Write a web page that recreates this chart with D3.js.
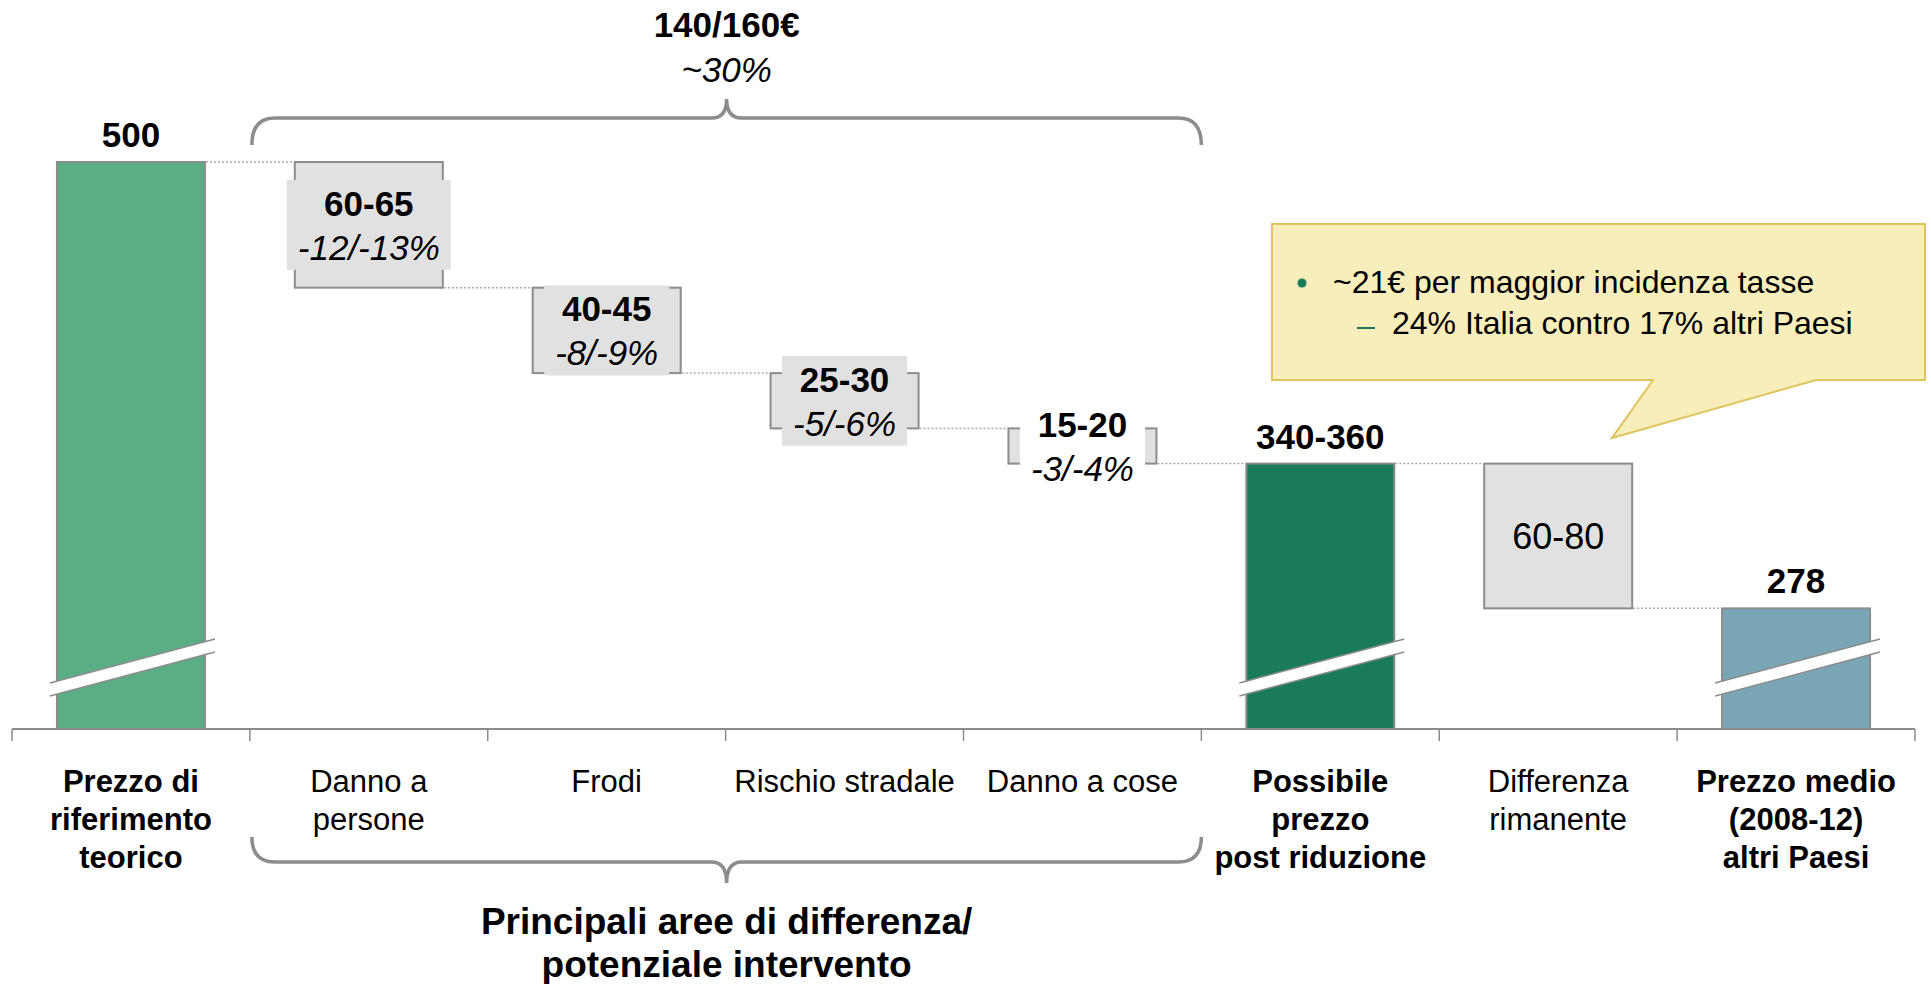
<!DOCTYPE html>
<html>
<head>
<meta charset="utf-8">
<script src="https://cdn.jsdelivr.net/npm/d3@7"></script>
<style>
  body { margin: 0; background: #fff; }
  text { font-family: "Liberation Sans", Arial, sans-serif; }
</style>
</head>
<body>
<svg id="chart" width="1931" height="984"></svg>
<script>
// chart data
const categories = ["Prezzo di riferimento teorico", "Danno a persone", "Frodi", "Rischio stradale",
  "Danno a cose", "Possibile prezzo post riduzione", "Differenza rimanente", "Prezzo medio (2008-12) altri Paesi"];
const kinds = ["total", "step", "step", "step", "step", "total", "step", "total"];
const lowValues = [500, 60, 40, 25, 15, 340, 60, 278];
const highValues = [500, 65, 45, 30, 20, 360, 80, 278];
const valueLabels = ["500", "60-65", "40-45", "25-30", "15-20", "340-360", "60-80", "278"];
const shareLabels = [null, "-12/-13%", "-8/-9%", "-5/-6%", "-3/-4%", null, null, null];
const tickLines = [["Prezzo di", "riferimento", "teorico"], ["Danno a", "persone"], ["Frodi"], ["Rischio stradale"],
  ["Danno a cose"], ["Possibile", "prezzo", "post riduzione"], ["Differenza", "rimanente"], ["Prezzo medio", "(2008-12)", "altri Paesi"]];
const boldTicks = [true, false, false, false, false, true, false, true];
const braceTop = ["140/160€", "~30%"];
const braceBottom = ["Principali aree di differenza/", "potenziale intervento"];
const noteLines = ["~21€ per maggior incidenza tasse", "24% Italia contro 17% altri Paesi"];

const totalFill = { 0: "#5bae84", 5: "#1a7b5a", 7: "#7aa5b5" };
const stepFill = "#e1e1e1";
const edge = "#8c8c8c";
const labelBg = { 1: stepFill, 2: stepFill, 3: stepFill, 4: "#fff" };

const svg = d3.select("#chart");
const x = d3.scaleBand().domain(categories).range([12, 1915]).padding(0);
const y = d3.scaleLinear().domain([218, 500]).range([729, 162]);
const barW = 148;
const axisY = y(218);

// waterfall levels
let level = 0;
const rows = categories.map((c, i) => {
  const mid = (lowValues[i] + highValues[i]) / 2;
  let top, bottom;
  if (kinds[i] === "total") {
    top = mid; bottom = 218; level = mid;
  } else {
    top = level;
    bottom = kinds[i + 1] === "total" ? (lowValues[i + 1] + highValues[i + 1]) / 2 : level - mid;
    level = bottom;
  }
  const x0 = x(c) + (x.bandwidth() - barW) / 2;
  return { c, i, kind: kinds[i], top, bottom, end: level, x0, x1: x0 + barW };
});

// bars
svg.append("g").selectAll("rect").data(rows).join("rect")
  .attr("x", d => d.x0)
  .attr("y", d => y(d.top))
  .attr("width", barW)
  .attr("height", d => y(d.bottom) - y(d.top))
  .attr("fill", d => d.kind === "total" ? totalFill[d.i] : stepFill)
  .attr("stroke", edge)
  .attr("stroke-width", 2);

// axis breaks on total bars
const breaks = svg.append("g");
rows.filter(d => d.kind === "total").forEach(d => {
  const a = d.x0 - 7, b = d.x1 + 10;
  breaks.append("path")
    .attr("d", `M${a},683 L${b},639 L${b},652 L${a},696 Z`)
    .attr("fill", "#fff");
  [[683, 639], [696, 652]].forEach(([ya, yb]) => {
    breaks.append("line")
      .attr("x1", a).attr("y1", ya).attr("x2", b).attr("y2", yb)
      .attr("stroke", edge).attr("stroke-width", 1.5);
  });
});

// dotted connectors
svg.append("g").selectAll("line").data(rows.slice(0, -1)).join("line")
  .attr("x1", d => d.x1 + 1)
  .attr("x2", d => rows[d.i + 1].x0 - 1)
  .attr("y1", d => y(d.end))
  .attr("y2", d => y(d.end))
  .attr("stroke", "#aaa")
  .attr("stroke-width", 1.5)
  .attr("stroke-dasharray", "2,2");

// axis
const axis = svg.append("g");
axis.append("line")
  .attr("x1", x.range()[0]).attr("x2", x.range()[1])
  .attr("y1", axisY).attr("y2", axisY)
  .attr("stroke", edge).attr("stroke-width", 2);
axis.selectAll("line.tick").data(categories.map(c => x(c)).concat([x.range()[1]])).join("line")
  .attr("class", "tick")
  .attr("x1", d => d).attr("x2", d => d)
  .attr("y1", axisY).attr("y2", axisY + 12)
  .attr("stroke", edge).attr("stroke-width", 1.5);

const tickText = axis.selectAll("text").data(categories).join("text")
  .attr("text-anchor", "middle")
  .attr("font-size", 31)
  .attr("font-weight", (d, i) => boldTicks[i] ? "bold" : "normal")
  .attr("fill", "#000");
tickText.each(function (c, i) {
  tickLines[i].forEach((t, k) => {
    d3.select(this).append("tspan")
      .attr("x", x(c) + x.bandwidth() / 2)
      .attr("y", 792 + k * 38)
      .text(t);
  });
});

// value labels
const labels = svg.append("g");
rows.forEach(d => {
  const cx = d.x0 + barW / 2;
  if (d.kind === "total") {
    labels.append("text")
      .attr("x", cx).attr("y", y(d.top) - 15)
      .attr("text-anchor", "middle")
      .attr("font-size", 35).attr("font-weight", "bold")
      .text(valueLabels[d.i]);
  } else if (shareLabels[d.i]) {
    const mid = (y(d.top) + y(d.bottom)) / 2;
    const g = labels.append("g");
    const bg = g.append("rect");
    const t1 = g.append("text")
      .attr("x", cx).attr("y", mid - 9)
      .attr("text-anchor", "middle")
      .attr("font-size", 35).attr("font-weight", "bold")
      .text(valueLabels[d.i]);
    const t2 = g.append("text")
      .attr("x", cx).attr("y", mid + 35)
      .attr("text-anchor", "middle")
      .attr("font-size", 35).attr("font-style", "italic")
      .text(shareLabels[d.i]);
    const w = Math.max(t1.node().getComputedTextLength(), t2.node().getComputedTextLength()) + 22;
    bg.attr("x", cx - w / 2).attr("width", w)
      .attr("y", mid - 45).attr("height", 90)
      .attr("fill", labelBg[d.i]);
  } else {
    labels.append("text")
      .attr("x", cx).attr("y", (y(d.top) + y(d.bottom)) / 2 + 13)
      .attr("text-anchor", "middle")
      .attr("font-size", 36)
      .text(valueLabels[d.i]);
  }
});

// braces
const bx0 = x(categories[1]) + 2, bx1 = x(categories[5]);
const bmid = (bx0 + bx1) / 2;
const brace = (yEnd, yLine, yTip) =>
  `M${bx0},${yEnd} Q${bx0},${yLine} ${bx0 + 23},${yLine} H${bmid - 15} Q${bmid},${yLine} ${bmid},${yTip}` +
  ` Q${bmid},${yLine} ${bmid + 15},${yLine} H${bx1 - 23} Q${bx1},${yLine} ${bx1},${yEnd}`;
svg.append("path").attr("d", brace(145, 118, 99))
  .attr("fill", "none").attr("stroke", edge).attr("stroke-width", 3.5);
svg.append("path").attr("d", brace(837, 862, 883))
  .attr("fill", "none").attr("stroke", edge).attr("stroke-width", 3.5);

svg.append("text").attr("x", bmid).attr("y", 37).attr("text-anchor", "middle")
  .attr("font-size", 35).attr("font-weight", "bold").text(braceTop[0]);
svg.append("text").attr("x", bmid).attr("y", 82).attr("text-anchor", "middle")
  .attr("font-size", 35).attr("font-style", "italic").text(braceTop[1]);
braceBottom.forEach((t, k) => {
  svg.append("text").attr("x", bmid).attr("y", 934 + k * 43).attr("text-anchor", "middle")
    .attr("font-size", 37).attr("font-weight", "bold").text(t);
});

// callout note
const note = svg.append("g");
note.append("path")
  .attr("d", "M1272,224 H1925 V380 H1816 L1612,438 L1653,380 H1272 Z")
  .attr("fill", "#f8eebb").attr("stroke", "#dfc35c").attr("stroke-width", 2);
note.append("circle").attr("cx", 1302).attr("cy", 283).attr("r", 4.5).attr("fill", "#1a7b5a");
note.append("text").attr("x", 1333).attr("y", 293).attr("font-size", 32).text(noteLines[0]);
note.append("line").attr("x1", 1357).attr("x2", 1375).attr("y1", 328).attr("y2", 328)
  .attr("stroke", "#1a7b5a").attr("stroke-width", 2);
note.append("text").attr("x", 1392).attr("y", 334).attr("font-size", 32).text(noteLines[1]);
</script>
</body>
</html>
